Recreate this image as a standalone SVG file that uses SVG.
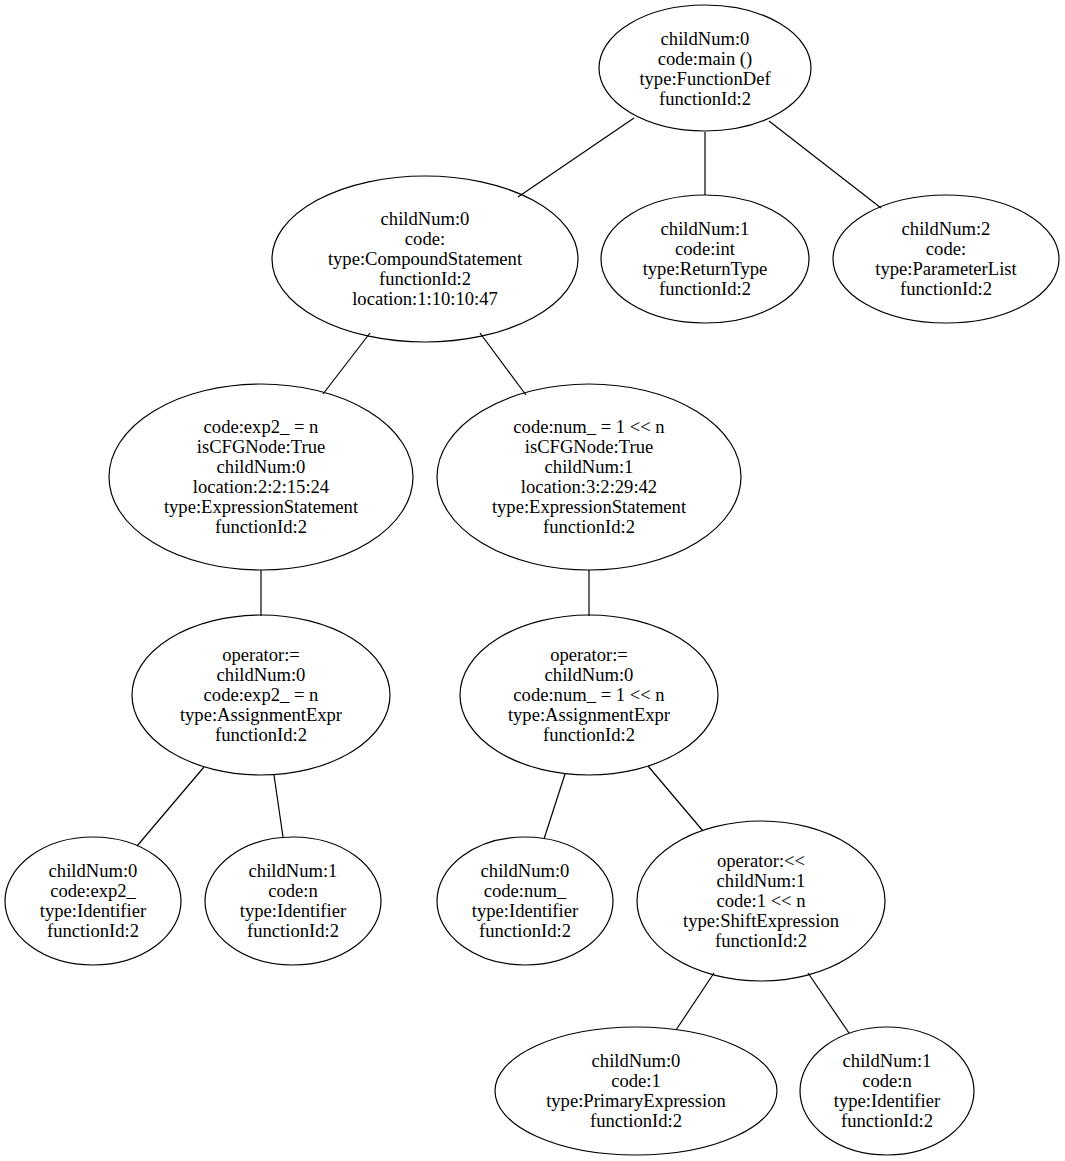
<svg xmlns="http://www.w3.org/2000/svg" width="1065" height="1161" viewBox="0 0 1065 1161">
<style>
.n ellipse{fill:none;stroke:#000;stroke-width:1.2}
.n text{font-family:"Liberation Serif","Times New Roman",serif;font-size:18.6px;text-anchor:middle;fill:#000}
#edges line{stroke:#000;stroke-width:1.2}
</style>
<rect width="1065" height="1161" fill="#fff"/>
<g id="edges">
<line x1="634" y1="118" x2="518" y2="197"/>
<line x1="705" y1="132" x2="705" y2="195"/>
<line x1="769" y1="121" x2="881" y2="208"/>
<line x1="370" y1="333" x2="323" y2="394"/>
<line x1="480" y1="333" x2="526" y2="395"/>
<line x1="261" y1="570" x2="261" y2="616"/>
<line x1="589" y1="570" x2="589" y2="616"/>
<line x1="204" y1="767" x2="137" y2="846"/>
<line x1="274" y1="775" x2="283" y2="837"/>
<line x1="565" y1="774" x2="544" y2="839"/>
<line x1="648" y1="766" x2="703" y2="831"/>
<line x1="714" y1="973" x2="676" y2="1030"/>
<line x1="808" y1="973" x2="849" y2="1033"/>
</g>
<g id="n1" class="n"><ellipse cx="705" cy="68" rx="106" ry="63"/>
<text x="705" y="45">childNum:0</text><text x="705" y="65">code:main ()</text><text x="705" y="85">type:FunctionDef</text><text x="705" y="105">functionId:2</text></g>
<g id="n2" class="n"><ellipse cx="425" cy="259" rx="153" ry="83"/>
<text x="425" y="225">childNum:0</text><text x="425" y="245">code:</text><text x="425" y="265">type:CompoundStatement</text><text x="425" y="285">functionId:2</text><text x="425" y="305">location:1:10:10:47</text></g>
<g id="n3" class="n"><ellipse cx="705" cy="259" rx="104" ry="64"/>
<text x="705" y="235">childNum:1</text><text x="705" y="255">code:int</text><text x="705" y="275">type:ReturnType</text><text x="705" y="295">functionId:2</text></g>
<g id="n4" class="n"><ellipse cx="946" cy="259" rx="113" ry="64"/>
<text x="946" y="235">childNum:2</text><text x="946" y="255">code:</text><text x="946" y="275">type:ParameterList</text><text x="946" y="295">functionId:2</text></g>
<g id="n5" class="n"><ellipse cx="261" cy="477" rx="152" ry="93"/>
<text x="261" y="433">code:exp2_ = n</text><text x="261" y="453">isCFGNode:True</text><text x="261" y="473">childNum:0</text><text x="261" y="493">location:2:2:15:24</text><text x="261" y="513">type:ExpressionStatement</text><text x="261" y="533">functionId:2</text></g>
<g id="n6" class="n"><ellipse cx="589" cy="477" rx="152" ry="93"/>
<text x="589" y="433">code:num_ = 1 &lt;&lt; n</text><text x="589" y="453">isCFGNode:True</text><text x="589" y="473">childNum:1</text><text x="589" y="493">location:3:2:29:42</text><text x="589" y="513">type:ExpressionStatement</text><text x="589" y="533">functionId:2</text></g>
<g id="n7" class="n"><ellipse cx="261" cy="695" rx="129" ry="80"/>
<text x="261" y="661">operator:=</text><text x="261" y="681">childNum:0</text><text x="261" y="701">code:exp2_ = n</text><text x="261" y="721">type:AssignmentExpr</text><text x="261" y="741">functionId:2</text></g>
<g id="n8" class="n"><ellipse cx="589" cy="695" rx="129" ry="80"/>
<text x="589" y="661">operator:=</text><text x="589" y="681">childNum:0</text><text x="589" y="701">code:num_ = 1 &lt;&lt; n</text><text x="589" y="721">type:AssignmentExpr</text><text x="589" y="741">functionId:2</text></g>
<g id="n9" class="n"><ellipse cx="93" cy="901" rx="88" ry="64"/>
<text x="93" y="877">childNum:0</text><text x="93" y="897">code:exp2_</text><text x="93" y="917">type:Identifier</text><text x="93" y="937">functionId:2</text></g>
<g id="n10" class="n"><ellipse cx="293" cy="901" rx="88" ry="64"/>
<text x="293" y="877">childNum:1</text><text x="293" y="897">code:n</text><text x="293" y="917">type:Identifier</text><text x="293" y="937">functionId:2</text></g>
<g id="n11" class="n"><ellipse cx="525" cy="901" rx="88" ry="64"/>
<text x="525" y="877">childNum:0</text><text x="525" y="897">code:num_</text><text x="525" y="917">type:Identifier</text><text x="525" y="937">functionId:2</text></g>
<g id="n12" class="n"><ellipse cx="761" cy="901" rx="124" ry="80"/>
<text x="761" y="867">operator:&lt;&lt;</text><text x="761" y="887">childNum:1</text><text x="761" y="907">code:1 &lt;&lt; n</text><text x="761" y="927">type:ShiftExpression</text><text x="761" y="947">functionId:2</text></g>
<g id="n13" class="n"><ellipse cx="636" cy="1091" rx="141" ry="64"/>
<text x="636" y="1067">childNum:0</text><text x="636" y="1087">code:1</text><text x="636" y="1107">type:PrimaryExpression</text><text x="636" y="1127">functionId:2</text></g>
<g id="n14" class="n"><ellipse cx="887" cy="1091" rx="87" ry="64"/>
<text x="887" y="1067">childNum:1</text><text x="887" y="1087">code:n</text><text x="887" y="1107">type:Identifier</text><text x="887" y="1127">functionId:2</text></g>
</svg>
